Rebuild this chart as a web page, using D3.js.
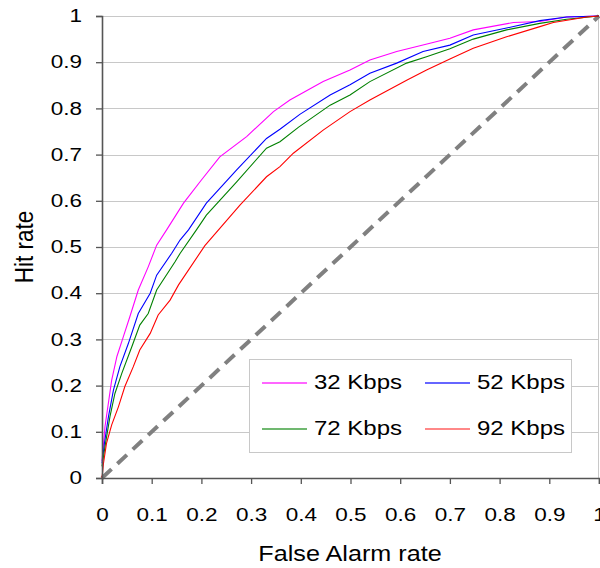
<!DOCTYPE html>
<html>
<head>
<meta charset="utf-8">
<script src="https://cdn.jsdelivr.net/npm/d3@7"></script>
<style>
  body { margin: 0; background: #fff; }
  text { font-family: "Liberation Sans", Arial, sans-serif; fill: #000; }
</style>
</head>
<body>
<svg id="chart" width="600" height="568"></svg>
<script>
// ROC curves, values
var fa32 = [0, 0.006, 0.0195, 0.03, 0.043, 0.056, 0.073, 0.093, 0.11, 0.13, 0.164, 0.2, 0.237, 0.291, 0.345, 0.378, 0.445, 0.499, 0.539, 0.593, 0.66, 0.70, 0.747, 0.828, 0.881, 0.935, 1];
var hr32 = [0.037, 0.111, 0.212, 0.263, 0.306, 0.349, 0.407, 0.457, 0.504, 0.537, 0.595, 0.645, 0.695, 0.739, 0.793, 0.818, 0.858, 0.883, 0.905, 0.923, 0.941, 0.952, 0.97, 0.986, 0.988, 0.998, 1];

var fa52 = [0, 0.005, 0.013, 0.023, 0.036, 0.053, 0.073, 0.097, 0.11, 0.14, 0.157, 0.174, 0.21, 0.271, 0.331, 0.358, 0.398, 0.459, 0.499, 0.539, 0.593, 0.646, 0.70, 0.747, 0.814, 0.881, 0.935, 1];
var hr52 = [0.032, 0.076, 0.133, 0.19, 0.241, 0.291, 0.356, 0.40, 0.439, 0.486, 0.515, 0.537, 0.595, 0.667, 0.735, 0.755, 0.787, 0.829, 0.851, 0.876, 0.898, 0.923, 0.937, 0.959, 0.974, 0.99, 0.998, 1];

var fa72 = [0, 0.006, 0.016, 0.026, 0.04, 0.06, 0.076, 0.093, 0.11, 0.147, 0.157, 0.19, 0.21, 0.271, 0.331, 0.358, 0.395, 0.459, 0.499, 0.539, 0.613, 0.653, 0.70, 0.747, 0.814, 0.881, 0.935, 1];
var hr72 = [0.025, 0.068, 0.133, 0.183, 0.227, 0.284, 0.331, 0.356, 0.407, 0.468, 0.486, 0.537, 0.569, 0.641, 0.714, 0.728, 0.759, 0.807, 0.829, 0.858, 0.898, 0.912, 0.929, 0.95, 0.97, 0.984, 0.993, 1];

var fa92 = [0, 0.003, 0.009, 0.0195, 0.033, 0.046, 0.063, 0.076, 0.097, 0.113, 0.137, 0.154, 0.207, 0.278, 0.331, 0.358, 0.385, 0.445, 0.499, 0.539, 0.613, 0.653, 0.70, 0.747, 0.814, 0.881, 0.908, 0.948, 0.975, 1];
var hr92 = [0, 0.032, 0.075, 0.115, 0.154, 0.198, 0.241, 0.277, 0.313, 0.353, 0.385, 0.418, 0.503, 0.591, 0.652, 0.674, 0.703, 0.753, 0.793, 0.818, 0.861, 0.883, 0.907, 0.93, 0.955, 0.977, 0.986, 0.993, 0.998, 1];

var seriesNames = ["32 Kbps", "52 Kbps", "72 Kbps", "92 Kbps"];
var seriesColors = ["#ff00ff", "#0000ff", "#008000", "#ff0000"];
var legendColors = ["#ff33ff", "#3333ff", "#40a040", "#ff6060"];
var ticks = [0, 0.1, 0.2, 0.3, 0.4, 0.5, 0.6, 0.7, 0.8, 0.9, 1];

var series = [
	{ name: seriesNames[0], fa: fa32, hr: hr32 },
	{ name: seriesNames[1], fa: fa52, hr: hr52 },
	{ name: seriesNames[2], fa: fa72, hr: hr72 },
	{ name: seriesNames[3], fa: fa92, hr: hr92 }
];

// the original image is stretched sideways, so text gets a horizontal scale
var stretch = 1.25;

var svg = d3.select("#chart");
var margin = {top: 16, right: 1, bottom: 90, left: 102};
var innerWidth = +svg.attr("width") - margin.left - margin.right;
var innerHeight = +svg.attr("height") - margin.top - margin.bottom;

var x = d3.scaleLinear().domain([0, 1]).range([0, innerWidth]);
var y = d3.scaleLinear().domain([0, 1]).range([innerHeight, 0]);

var g = svg.append("g")
	.attr("transform", "translate(" + margin.left + "," + margin.top + ")");

// horizontal gridlines
g.append("g")
	.selectAll("line")
	.data(ticks)
	.enter().append("line")
	.attr("x1", 0)
	.attr("x2", innerWidth)
	.attr("y1", d => Math.round(y(d)) + 0.5)
	.attr("y2", d => Math.round(y(d)) + 0.5)
	.attr("stroke", "#c8c8c8")
	.attr("stroke-width", 1);

// right border of plot area
g.append("line")
	.attr("x1", innerWidth - 0.5).attr("x2", innerWidth - 0.5)
	.attr("y1", 0).attr("y2", innerHeight)
	.attr("stroke", "#c8c8c8");

// chance diagonal
g.append("line")
	.attr("x1", x(0)).attr("y1", y(0))
	.attr("x2", x(1)).attr("y2", y(1))
	.attr("stroke", "#808080")
	.attr("stroke-width", 4)
	.attr("stroke-dasharray", "13,8");

var line = d3.line()
	.x(d => x(d[0]))
	.y(d => y(d[1]));

series.forEach(function(s, i) {
	var pts = s.fa.map((v, j) => [v, s.hr[j]]);
	g.append("path")
		.datum(pts)
		.attr("fill", "none")
		.attr("stroke", seriesColors[i])
		.attr("stroke-width", 1.1)
		.attr("d", line);
});

// axes
var fmt = d => String(+d.toFixed(1));
var xAxis = g.append("g")
	.attr("transform", "translate(0," + innerHeight + ")")
	.call(d3.axisBottom(x).tickValues(ticks).tickSize(6).tickPadding(24).tickFormat(fmt));
var yAxis = g.append("g")
	.call(d3.axisLeft(y).tickValues(ticks).tickSize(6).tickPadding(10).tickFormat(fmt));

[xAxis, yAxis].forEach(function(a) {
	a.select(".domain").attr("stroke", "#555").attr("stroke-width", 1.6);
	a.selectAll(".tick line").attr("stroke", "#555").attr("stroke-width", 1.3);
	a.selectAll(".tick text")
		.style("font-family", "'Liberation Sans', Arial, sans-serif")
		.style("font-size", "18px")
		.attr("fill", "#000")
		.attr("transform", "scale(" + stretch + ",1)");
});

// axis titles
svg.append("text")
	.attr("transform", "translate(350,561) scale(1.12,1)")
	.attr("text-anchor", "middle")
	.style("font-size", "22.5px")
	.text("False Alarm rate");

svg.append("text")
	.attr("transform", "translate(33,247) scale(1.12,1) rotate(-90)")
	.attr("text-anchor", "middle")
	.style("font-size", "22.5px")
	.text("Hit rate");

// legend
var legend = svg.append("g").attr("transform", "translate(249.5,359.5)");
legend.append("rect")
	.attr("width", 322)
	.attr("height", 93)
	.attr("fill", "#fff")
	.attr("stroke", "#c8c8c8");

var items = legend.selectAll("g.item")
	.data(seriesNames)
	.enter().append("g")
	.attr("class", "item")
	.attr("transform", (d, i) => "translate(" + (i % 2 ? 175.5 : 12.5) + "," + (i < 2 ? 23.5 : 69.5) + ")");

items.append("line")
	.attr("x1", 0).attr("x2", 45)
	.attr("stroke", (d, i) => legendColors[i])
	.attr("stroke-width", 1.3);

items.append("text")
	.attr("transform", "translate(52,6) scale(1.2,1)")
	.style("font-size", "20px")
	.text(d => d);
</script>
</body>
</html>
